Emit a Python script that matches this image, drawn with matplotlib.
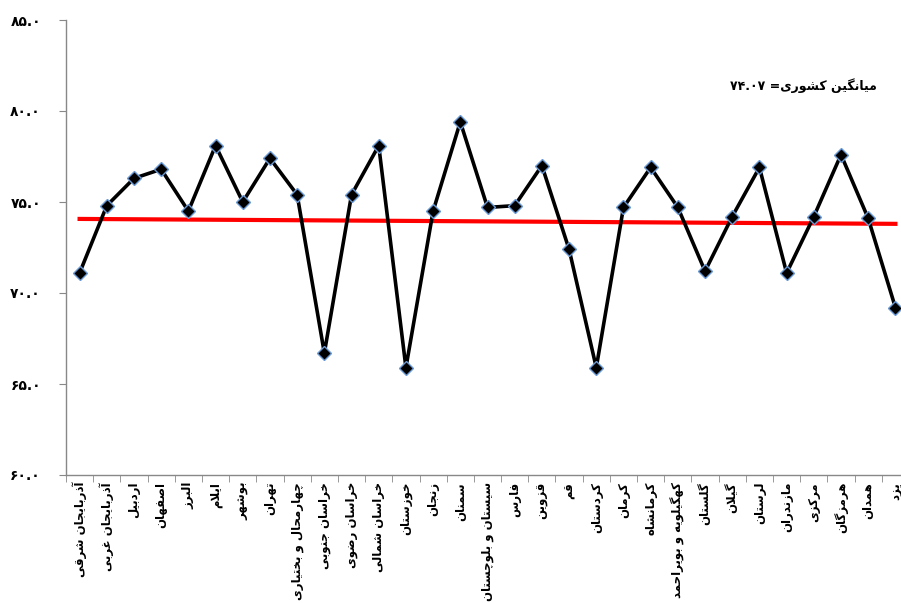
import matplotlib
matplotlib.use('Agg')
import matplotlib.pyplot as plt
import numpy as np

# استان‌ها و مقادیر
ostan = ['آذربایجان شرقی', 'آذربایجان غربی', 'اردبیل', 'اصفهان', 'البرز', 'ایلام',
         'بوشهر', 'تهران', 'چهارمحال و بختیاری', 'خراسان جنوبی', 'خراسان رضوی',
         'خراسان شمالی', 'خوزستان', 'زنجان', 'سمنان', 'سیستان و بلوچستان', 'فارس',
         'قزوین', 'قم', 'کردستان', 'کرمان', 'کرمانشاه', 'کهگیلویه و بویراحمد',
         'گلستان', 'گیلان', 'لرستان', 'مازندران', 'مرکزی', 'هرمزگان', 'همدان', 'یزد']
meghdar = [71.1, 74.8, 76.3, 76.8, 74.5, 78.1, 75.0, 77.4, 75.4, 66.7, 75.4,
           78.1, 65.9, 74.5, 79.4, 74.7, 74.8, 77.0, 72.4, 65.9, 74.7, 76.9,
           74.7, 71.2, 74.2, 76.9, 71.1, 74.2, 77.6, 74.1, 69.2]
# خط روند (ابتدا و انتها)
khat_ravand = [74.07, 73.8]
y_ticks = [60, 65, 70, 75, 80, 85]
y_labels = ['۶۰.۰', '۶۵.۰', '۷۰.۰', '۷۵.۰', '۸۰.۰', '۸۵.۰']
matn_miangin = 'میانگین کشوری'
adad_miangin = '۷۴.۰۷'

# matplotlib حروف فارسی را نمی‌چسباند، پس دستی شکل حروف را می‌سازیم
# (isolated, final, initial, medial)
ashkal = {
    'ا': (0xFE8D, 0xFE8E, None, None), 'آ': (0xFE81, 0xFE82, None, None),
    'ب': (0xFE8F, 0xFE90, 0xFE91, 0xFE92), 'پ': (0xFB56, 0xFB57, 0xFB58, 0xFB59),
    'ت': (0xFE95, 0xFE96, 0xFE97, 0xFE98), 'ث': (0xFE99, 0xFE9A, 0xFE9B, 0xFE9C),
    'ج': (0xFE9D, 0xFE9E, 0xFE9F, 0xFEA0), 'چ': (0xFB7A, 0xFB7B, 0xFB7C, 0xFB7D),
    'ح': (0xFEA1, 0xFEA2, 0xFEA3, 0xFEA4), 'خ': (0xFEA5, 0xFEA6, 0xFEA7, 0xFEA8),
    'د': (0xFEA9, 0xFEAA, None, None), 'ذ': (0xFEAB, 0xFEAC, None, None),
    'ر': (0xFEAD, 0xFEAE, None, None), 'ز': (0xFEAF, 0xFEB0, None, None),
    'ژ': (0xFB8A, 0xFB8B, None, None),
    'س': (0xFEB1, 0xFEB2, 0xFEB3, 0xFEB4), 'ش': (0xFEB5, 0xFEB6, 0xFEB7, 0xFEB8),
    'ص': (0xFEB9, 0xFEBA, 0xFEBB, 0xFEBC), 'ض': (0xFEBD, 0xFEBE, 0xFEBF, 0xFEC0),
    'ط': (0xFEC1, 0xFEC2, 0xFEC3, 0xFEC4), 'ظ': (0xFEC5, 0xFEC6, 0xFEC7, 0xFEC8),
    'ع': (0xFEC9, 0xFECA, 0xFECB, 0xFECC), 'غ': (0xFECD, 0xFECE, 0xFECF, 0xFED0),
    'ف': (0xFED1, 0xFED2, 0xFED3, 0xFED4), 'ق': (0xFED5, 0xFED6, 0xFED7, 0xFED8),
    'ک': (0xFB8E, 0xFB8F, 0xFB90, 0xFB91), 'گ': (0xFB92, 0xFB93, 0xFB94, 0xFB95),
    'ل': (0xFEDD, 0xFEDE, 0xFEDF, 0xFEE0), 'م': (0xFEE1, 0xFEE2, 0xFEE3, 0xFEE4),
    'ن': (0xFEE5, 0xFEE6, 0xFEE7, 0xFEE8), 'و': (0xFEED, 0xFEEE, None, None),
    'ه': (0xFEE9, 0xFEEA, 0xFEEB, 0xFEEC), 'ی': (0xFBFC, 0xFBFD, 0xFBFE, 0xFBFF),
}
lam_alef = {'ا': (0xFEFB, 0xFEFC), 'آ': (0xFEF5, 0xFEF6)}


def dotarafe(c):
    return c in ashkal and ashkal[c][2] is not None


def farsi(s):
    out = []
    i = 0
    while i < len(s):
        c = s[i]
        if c not in ashkal:
            out.append(c)
            i += 1
            continue
        prev = s[i - 1] if i > 0 else ''
        be_ghabl = dotarafe(prev)
        if c == 'ل' and i + 1 < len(s) and s[i + 1] in lam_alef:
            f = lam_alef[s[i + 1]]
            out.append(chr(f[1] if be_ghabl else f[0]))
            i += 2
            continue
        nxt = s[i + 1] if i + 1 < len(s) else ''
        be_baad = dotarafe(c) and nxt in ashkal
        f = ashkal[c]
        if be_ghabl and be_baad:
            out.append(chr(f[3]))
        elif be_ghabl:
            out.append(chr(f[1]))
        elif be_baad:
            out.append(chr(f[2]))
        else:
            out.append(chr(f[0]))
        i += 1
    return ''.join(reversed(out))


plt.rcParams['font.family'] = ['DejaVu Sans']
plt.rcParams['font.weight'] = 'bold'

fig = plt.figure(figsize=(9.01, 6.03), dpi=100)
ax = fig.add_axes([66 / 901, 128 / 603, 843 / 901, 455 / 603])

x = np.arange(len(ostan))
ax.plot([x[0], x[-1]], khat_ravand, color='#ff0000', lw=3, zorder=2)
ax.plot(x, meghdar, color='black', lw=2.6, marker='D', markersize=7,
        markerfacecolor='black', markeredgecolor='#6a9ad6', markeredgewidth=1,
        zorder=3)

ax.set_xlim(-0.5, len(ostan) - 0.5)
ax.set_ylim(60, 85)
ax.set_yticks(y_ticks)
ax.set_yticklabels(y_labels, fontsize=10, fontweight='bold')
ax.set_xticks(x)
ax.set_xticklabels([farsi(o) for o in ostan], rotation=90, fontsize=8.5,
                   fontweight='bold')
ax.set_xticks(np.arange(-0.5, len(ostan)), minor=True)
ax.tick_params(axis='x', which='major', length=0, pad=5)
ax.tick_params(axis='x', which='minor', length=5, color='#888888')
ax.tick_params(axis='y', length=5, color='#888888', pad=13)

for s in ['top', 'right']:
    ax.spines[s].set_visible(False)
for s in ['left', 'bottom']:
    ax.spines[s].set_color('#888888')
    ax.spines[s].set_linewidth(1)

ax.text(26.6, 81.4, adad_miangin + ' =' + farsi(matn_miangin),
        ha='center', va='center', fontsize=9, fontweight='bold')

plt.savefig('out.png', dpi=100)
